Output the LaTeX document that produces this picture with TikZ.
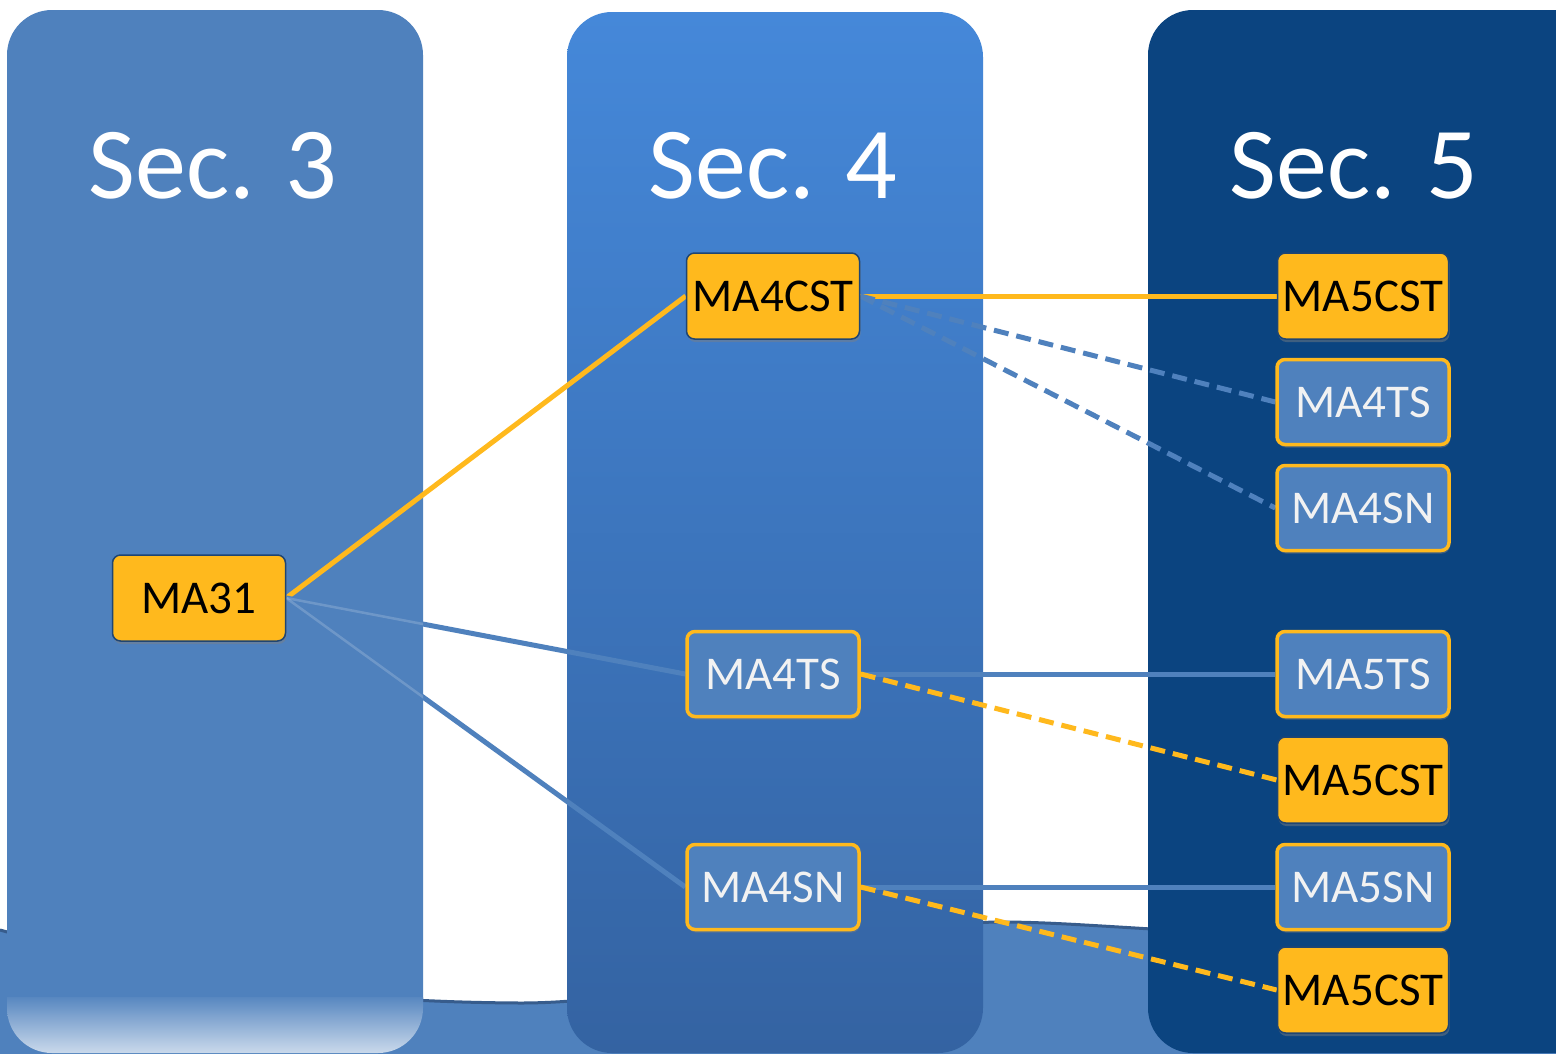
\documentclass[tikz,border=0pt]{standalone}
\usepackage{fontspec}
\setmainfont{Carlito}
\usetikzlibrary{shadows}
\pgfdeclarelayer{bg}
\pgfdeclarelayer{mid}
\pgfsetlayers{bg,mid,main}
\definecolor{colA}{HTML}{4F81BD}
\definecolor{colBtop}{HTML}{4588D9}
\definecolor{colBbot}{HTML}{3463A2}
\definecolor{colC}{HTML}{0B4480}
\definecolor{orng}{HTML}{FFB91D}
\definecolor{nodeedge}{HTML}{1F4573}
\definecolor{bandedge}{HTML}{375C8C}
\definecolor{lighttxt}{HTML}{F2F2F2}
\tikzset{
  title/.style={text=white, font=\fontsize{102}{110}\selectfont, anchor=base},
  orbox/.style={draw=nodeedge, line width=1.5pt, fill=orng, rounded corners=8pt,
    minimum width=173pt, minimum height=86pt, inner sep=0pt, text=black,
    font=\fontsize{47}{50}\selectfont,
    drop shadow={shadow xshift=1pt, shadow yshift=-3pt, opacity=0.45}},
  blbox/.style={draw=orng, line width=3.5pt, fill=colA, rounded corners=8pt,
    minimum width=172pt, minimum height=85pt, inner sep=0pt, text=lighttxt,
    font=\fontsize{47}{50}\selectfont,
    drop shadow={shadow xshift=1pt, shadow yshift=-3pt, opacity=0.45}},
  orline/.style={draw=orng, line width=5pt},
  blline/.style={draw=colA, line width=5pt},
  ordash/.style={orline, dash pattern=on 15pt off 8pt},
  bldash/.style={blline, dash pattern=on 15pt off 8pt},
  glow/.style={draw=white, opacity=0.18, line width=2.5pt},
}
\begin{document}
\begin{tikzpicture}[x=1pt, y=-1pt]
\useasboundingbox (0,0) rectangle (1556,1053);
\clip (0,0) rectangle (1556,1053);
\begin{pgfonlayer}{bg}
\fill[white] (0,0) rectangle (1556,1053);
% bottom band
\fill[colA] (0,930) .. controls (200,985) and (350,1002) .. (520,1003)
  .. controls (700,1003) and (880,922) .. (1000,922)
  .. controls (1080,922) and (1150,932) .. (1556,950) -- (1556,1060) -- (0,1060) -- cycle;
\draw[bandedge, line width=3pt] (0,930) .. controls (200,985) and (350,1002) .. (520,1003)
  .. controls (700,1003) and (880,922) .. (1000,922)
  .. controls (1080,922) and (1150,932) .. (1556,950);
% columns
\fill[colA, rounded corners=45pt] (7,10) rectangle (423,1053);
\begin{scope}
  \clip[rounded corners=45pt] (7,10) rectangle (423,1053);
  \shade[top color=colA!95!white, bottom color=colA!30!white] (7,997) rectangle (423,1053);
\end{scope}
\shade[rounded corners=45pt, top color=colBtop, bottom color=colBbot] (567,12) rectangle (983,1053);
\fill[colC, rounded corners=45pt] (1148,10) rectangle (1620,1053);
\end{pgfonlayer}
% titles
\node[title] (t3) at (213,198) {Sec. 3};
\node[title] (t4) at (773,198) {Sec. 4};
\node[title] (t5) at (1354,198) {Sec. 5};
% nodes
\node[orbox] (ma31) at (199,598) {MA31};
\node[orbox] (ma4cst) at (773,296) {MA4CST};
\node[blbox] (ma4ts) at (773,674) {MA4TS};
\node[blbox] (ma4sn) at (773,887) {MA4SN};
\node[orbox, minimum width=171pt] (ma5cstA) at (1363,296) {MA5CST};
\node[blbox] (c5ts4) at (1363,402) {MA4TS};
\node[blbox] (c5sn4) at (1363,508) {MA4SN};
\node[blbox] (ma5ts) at (1363,674) {MA5TS};
\node[orbox, minimum width=171pt] (ma5cstB) at (1363,780) {MA5CST};
\node[blbox] (ma5sn) at (1363,887) {MA5SN};
\node[orbox, minimum width=171pt] (ma5cstC) at (1363,990) {MA5CST};
% connectors (behind nodes)
\begin{pgfonlayer}{mid}
\path[orline] (ma31.east) -- (ma4cst.west);
\path[blline] (ma31.east) -- (ma4ts.west);
\path[blline] (ma31.east) -- (ma4sn.west);
\begin{scope}
  \clip (7,0) rectangle (423,1053);
  \path[glow] (ma31.east) -- (ma4ts.west);
  \path[glow] (ma31.east) -- (ma4sn.west);
\end{scope}
\path[orline] (ma4cst.east) -- (ma5cstA.west);
\path[bldash] (ma4cst.east) -- (c5ts4.west);
\path[bldash] (ma4cst.east) -- (c5sn4.west);
\path[blline] (ma4ts.east) -- (ma5ts.west);
\path[ordash] (ma4ts.east) -- (ma5cstB.west);
\path[blline] (ma4sn.east) -- (ma5sn.west);
\path[ordash] (ma4sn.east) -- (ma5cstC.west);
\end{pgfonlayer}
\end{tikzpicture}
\end{document}
